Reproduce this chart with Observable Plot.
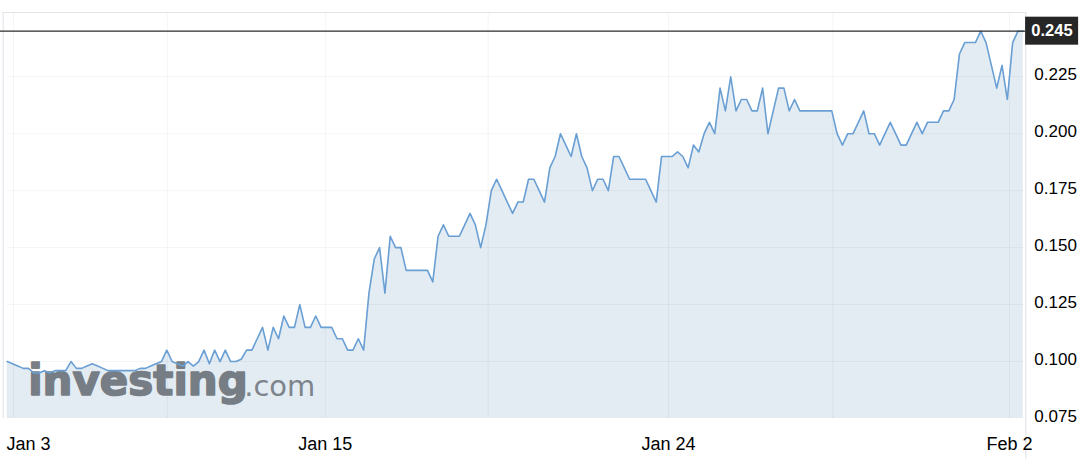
<!DOCTYPE html>
<html><head><meta charset="utf-8">
<script src="https://cdn.jsdelivr.net/npm/d3@7"></script>
<script src="https://cdn.jsdelivr.net/npm/@observablehq/plot@0.6"></script>
<style>
html,body{margin:0;padding:0;background:#fff;}
#chart svg{display:block;}
</style></head><body><div id="chart"></div>
<script>
// Price series (one value per sample, left to right)
const prices = [
  0.100,0.099,0.098,0.097,0.097,0.095,0.095,0.096,0.095,0.096,
  0.096,0.096,0.100,0.097,0.097,0.098,0.099,0.098,0.097,0.096,
  0.096,0.096,0.096,0.096,0.096,0.097,0.097,0.098,0.099,0.100,
  0.105,0.100,0.099,0.098,0.100,0.098,0.100,0.105,0.099,0.105,
  0.100,0.105,0.100,0.100,0.101,0.105,0.105,0.110,0.115,0.105,
  0.115,0.110,0.120,0.115,0.115,0.125,0.115,0.115,0.120,0.115,
  0.115,0.115,0.110,0.110,0.105,0.105,0.110,0.105,0.130,0.145,
  0.150,0.130,0.155,0.150,0.150,0.140,0.140,0.140,0.140,0.140,
  0.135,0.155,0.160,0.155,0.155,0.155,0.160,0.165,0.160,0.150,
  0.160,0.175,0.180,0.175,0.170,0.165,0.170,0.170,0.180,0.180,
  0.175,0.170,0.185,0.190,0.200,0.195,0.190,0.200,0.190,0.185,
  0.175,0.180,0.180,0.175,0.190,0.190,0.185,0.180,0.180,0.180,
  0.180,0.175,0.170,0.190,0.190,0.190,0.192,0.190,0.185,0.195,
  0.192,0.200,0.205,0.200,0.220,0.210,0.225,0.210,0.215,0.215,
  0.210,0.210,0.220,0.200,0.210,0.220,0.220,0.210,0.215,0.210,
  0.210,0.210,0.210,0.210,0.210,0.210,0.200,0.195,0.200,0.200,
  0.205,0.210,0.200,0.200,0.195,0.200,0.205,0.200,0.195,0.195,
  0.200,0.205,0.200,0.205,0.205,0.205,0.210,0.210,0.215,0.235,
  0.240,0.240,0.240,0.245,0.240,0.230,0.220,0.230,0.215,0.240,
  0.245,0.245
];
// x-axis labels (at sample positions) and vertical grid positions
const xTickPos = [4, 59.8, 124.3, 188.4];
const xTickLabels = ["Jan 3", "Jan 15", "Jan 24", "Feb 2"];
const xGridPos = [1.2, 30.1, 59.8, 90.4, 124.3, 155.2, 188.4];
// y-axis
const yTicks = [0.075, 0.100, 0.125, 0.150, 0.175, 0.200, 0.225];
const yGrid = [0.100, 0.125, 0.150, 0.175, 0.200, 0.225];
const yDomain = [0.075, 0.2532];
const watermarkWord = "investing";
const watermarkSuffix = ".com";

const data = prices.map((v, i) => ({i, v}));
const last = prices[prices.length - 1];
const fmt = d3.format(".3f");
const borderColor = "#e2e6eb";
const wmColor = "#6c7279";

const chart = Plot.plot({
  width: 1084, height: 459,
  marginTop: 12, marginBottom: 41, marginLeft: 6.7, marginRight: 61.2,
  style: {fontFamily: "'Liberation Sans', Arial, sans-serif", background: "#fff", color: "#000"},
  x: {domain: [0, prices.length - 1], label: null},
  y: {domain: yDomain, label: null},
  marks: [
    Plot.areaY(data, {x: "i", y1: () => yDomain[0], y2: "v", fill: "#e3ecf3"}),
    Plot.gridX(xGridPos, {stroke: "#000", strokeOpacity: 0.045, strokeWidth: 1}),
    Plot.gridY(yGrid, {stroke: "#000", strokeOpacity: 0.045, strokeWidth: 1}),
    // frame borders
    Plot.ruleX([0], {dx: -4, stroke: borderColor, strokeWidth: 1.2}),
    Plot.ruleX([prices.length - 1], {dx: 2.5, insetBottom: -41, stroke: borderColor, strokeWidth: 1.2}),
    Plot.ruleY([yDomain[1]], {insetLeft: -4, insetRight: -2.5, stroke: borderColor, strokeWidth: 1}),
    // watermark
    Plot.text([watermarkWord], {frameAnchor: "bottom-left", textAnchor: "start", lineAnchor: "bottom",
      dx: 21, dy: -24, fontSize: 42, fontWeight: "bold", fontFamily: "'DejaVu Sans', sans-serif",
      fill: wmColor, stroke: wmColor, strokeWidth: 1.6, opacity: 0.9, text: d => d}),
    Plot.text([watermarkSuffix], {frameAnchor: "bottom-left", textAnchor: "start", lineAnchor: "bottom",
      dx: 237, dy: -23, fontSize: 29, fontFamily: "'DejaVu Sans', sans-serif",
      fill: wmColor, opacity: 0.85, text: d => d}),
    Plot.line(data, {x: "i", y: "v", stroke: "#6a9fd4", strokeWidth: 1.6}),
    Plot.ruleY([last], {insetLeft: -7, insetRight: -3, stroke: "#2b2b2b", strokeWidth: 1.2}),
    Plot.axisY(yTicks, {anchor: "right", tickSize: 0, tickPadding: 11, tickFormat: fmt,
      fontSize: 17, fill: "#000", dy: -2, label: null}),
    Plot.axisX(xTickPos, {anchor: "bottom", tickSize: 0, tickPadding: 19,
      tickFormat: d => xTickLabels[xTickPos.indexOf(d)], fontSize: 18, fill: "#000", label: null}),
    Plot.text([last], {y: d => d, frameAnchor: "right", textAnchor: "middle", dx: 28.7,
      text: d => fmt(d), fill: "#fff", fontWeight: "bold", fontSize: 16.5})
  ]
});

document.getElementById("chart").appendChild(chart);

// dark price tag behind the last-price label
const ys = chart.scale("y").apply(last);
const xr = chart.scale("x").apply(prices.length - 1);
const svg = d3.select(chart);
const texts = svg.selectAll("text").filter(function() { return this.textContent === fmt(last); });
const tagNode = texts.nodes()[texts.nodes().length - 1];
const g = tagNode ? tagNode.closest("g") : null;
const rect = document.createElementNS("http://www.w3.org/2000/svg", "rect");
rect.setAttribute("x", xr + 2.3);
rect.setAttribute("y", ys - 14);
rect.setAttribute("width", 53);
rect.setAttribute("height", 28);
rect.setAttribute("fill", "#262626");
if (g) g.parentNode.insertBefore(rect, g); else chart.appendChild(rect);
</script>
</body></html>
